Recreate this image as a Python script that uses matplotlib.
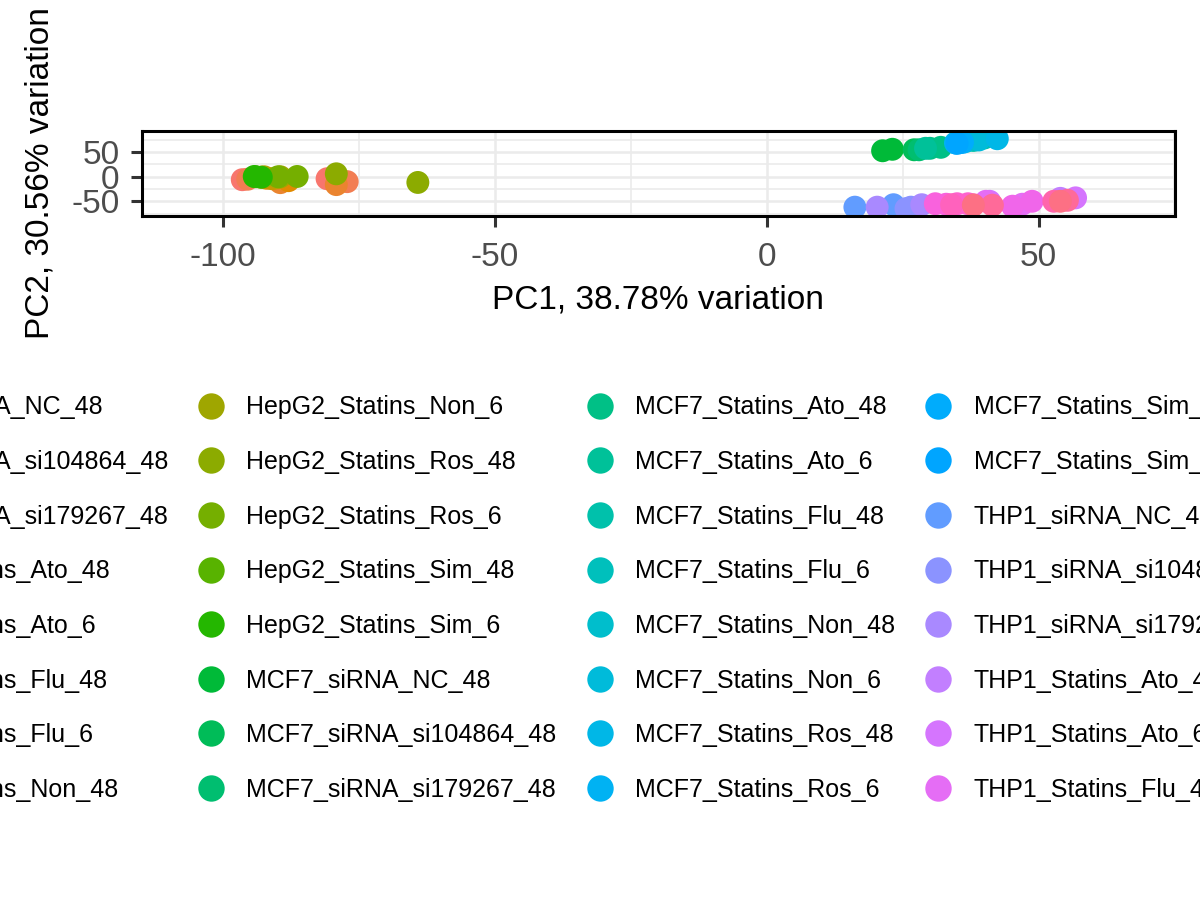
import numpy as np
import matplotlib
matplotlib.use("Agg")
import matplotlib.pyplot as plt
from matplotlib.lines import Line2D

plt.rcParams['font.family'] = ['Liberation Sans', 'DejaVu Sans']

groups = [
    "HepG2_siRNA_NC_48", "HepG2_siRNA_si104864_48", "HepG2_siRNA_si179267_48",
    "HepG2_Statins_Ato_48", "HepG2_Statins_Ato_6", "HepG2_Statins_Flu_48", "HepG2_Statins_Flu_6",
    "HepG2_Statins_Non_48", "HepG2_Statins_Non_6", "HepG2_Statins_Ros_48", "HepG2_Statins_Ros_6",
    "HepG2_Statins_Sim_48", "HepG2_Statins_Sim_6",
    "MCF7_siRNA_NC_48", "MCF7_siRNA_si104864_48", "MCF7_siRNA_si179267_48",
    "MCF7_Statins_Ato_48", "MCF7_Statins_Ato_6", "MCF7_Statins_Flu_48", "MCF7_Statins_Flu_6",
    "MCF7_Statins_Non_48", "MCF7_Statins_Non_6", "MCF7_Statins_Ros_48", "MCF7_Statins_Ros_6",
    "MCF7_Statins_Sim_48", "MCF7_Statins_Sim_6",
    "THP1_siRNA_NC_48", "THP1_siRNA_si104864_48", "THP1_siRNA_si179267_48",
    "THP1_Statins_Ato_48", "THP1_Statins_Ato_6", "THP1_Statins_Flu_48", "THP1_Statins_Flu_6",
    "THP1_Statins_Non_48", "THP1_Statins_Non_6", "THP1_Statins_Ros_48", "THP1_Statins_Ros_6",
    "THP1_Statins_Sim_48", "THP1_Statins_Sim_6",
]

# PC1 / PC2 scores per group (replicates)
pc1 = [
    [-96.5, -80.9], [-95.5, -77.2], [-89.5, -79.2],
    [-92.0, -88.0], [-93.0], [-91.0], [-90.0],
    [-92.5], [-89.5], [-64.2, -79.2], [-86.4, -89.9],
    [-94.0], [-94.3, -93.0],
    [21.3, 23.1], [27.1], [28.0],
    [30.0, 32.0], [29.2], [38.0, 40.0], [38.5],
    [36.6], [39.0], [42.4, 35.5], [34.7],
    [36.0], [35.0],
    [16.2, 23.3], [25.6, 26.5], [20.3, 28.5],
    [54.0], [41.0, 56.8], [40.3, 47.0], [45.2, 48.8],
    [31.0, 33.0], [35.0, 37.0], [34.0], [38.0, 52.8],
    [41.5, 55.3], [38.0, 54.0],
]
pc2 = [
    [-6.0, -4.0], [-5.0, -10.0], [-12.0, -16.0],
    [-3.0, -8.0], [-1.0], [-4.0], [-2.0],
    [0.0], [0.0], [-11.6, 6.0], [0.6, 0.0],
    [0.0], [0.6, -1.0],
    [53.0, 56.0], [55.0], [55.0],
    [58.0, 60.0], [58.0], [74.0, 79.0], [76.0],
    [72.0], [75.0], [77.5, 70.0], [69.0],
    [70.0], [68.0],
    [-62.0, -57.0], [-65.0, -62.0], [-62.0, -57.0],
    [-44.0], [-50.0, -43.0], [-50.0, -56.0], [-60.0, -50.0],
    [-55.0, -56.0], [-55.0, -55.0], [-57.0], [-57.0, -50.0],
    [-58.0, -48.0], [-58.0, -50.0],
]

x_ticks = [-100, -50, 0, 50]
y_ticks = [-50, 0, 50]
x_title = "PC1, 38.78% variation"
y_title = "PC2, 30.56% variation"


def hcl_hex(h, c=100.0, l=65.0):
    hr = np.deg2rad(h)
    u, v = c * np.cos(hr), c * np.sin(hr)
    Xn, Yn, Zn = 95.047, 100.0, 108.883
    den = Xn + 15 * Yn + 3 * Zn
    un, vn = 4 * Xn / den, 9 * Yn / den
    Y = Yn * ((l + 16) / 116) ** 3
    up = u / (13 * l) + un
    vp = v / (13 * l) + vn
    X = 9 * Y * up / (4 * vp)
    Z = -X / 3 - 5 * Y + 3 * Y / vp
    M = np.array([[3.2404542, -1.5371385, -0.4985314],
                  [-0.9692660, 1.8760108, 0.0415560],
                  [0.0556434, -0.2040259, 1.0572252]])
    rgb = M @ (np.array([X, Y, Z]) / 100.0)
    rgb = np.where(rgb <= 0.0031308, 12.92 * rgb, 1.055 * np.power(np.clip(rgb, 0, None), 1 / 2.4) - 0.055)
    rgb = np.clip(rgb, 0, 1)
    return tuple(rgb)


n = len(groups)
colors = [hcl_hex(15 + i * 360.0 / n) for i in range(n)]

fig = plt.figure(figsize=(12, 9), dpi=100)
ax = fig.add_axes([0.1181, 0.76, 0.9792 - 0.1181, 0.855 - 0.76])

ax.set_xlim(-115.0, 75.1)
ax.set_ylim(-80.0, 94.3)

# gridlines
grid_c = "#EBEBEB"
for xv in x_ticks:
    ax.axvline(xv, color=grid_c, lw=1.8, zorder=0)
for xv in [-75, -25, 25, 75]:
    ax.axvline(xv, color=grid_c, lw=1.2, zorder=0)
for yv in y_ticks:
    ax.axhline(yv, color=grid_c, lw=1.8, zorder=0)
for yv in [-75, -25, 25, 75]:
    ax.axhline(yv, color=grid_c, lw=1.2, zorder=0)

for i in range(n):
    ax.scatter(pc1[i], pc2[i], s=16.5 ** 2, color=colors[i], edgecolors='none', zorder=3)

ax.set_xticks(x_ticks)
ax.set_yticks(y_ticks)
ax.set_xticklabels([str(v) for v in x_ticks])
ax.set_yticklabels([str(v) for v in y_ticks])
ax.tick_params(axis='both', length=8, width=2.2, color="#333333", labelcolor="#4D4D4D",
               labelsize=24)
ax.tick_params(axis='x', pad=11)
ax.tick_params(axis='y', pad=8)
for sp in ax.spines.values():
    sp.set_linewidth(2.2)
    sp.set_color("black")
    sp.set_zorder(5)

ax.set_xlabel(x_title, fontsize=24, color="black", labelpad=8)
ax.set_ylabel(y_title, fontsize=24, color="black", labelpad=11)

handles = [Line2D([0], [0], marker='o', linestyle='none', markersize=19,
                  markerfacecolor=colors[i], markeredgecolor='none') for i in range(n)]
leg = fig.legend(handles, groups, loc='upper left', bbox_to_anchor=(-0.1679, 0.5606),
                 ncol=5, frameon=False, fontsize=18, borderpad=0, handlelength=1.0,
                 handletextpad=0.92, columnspacing=1.22, labelspacing=1.225, borderaxespad=0)

fig.savefig("out.png", dpi=100)
